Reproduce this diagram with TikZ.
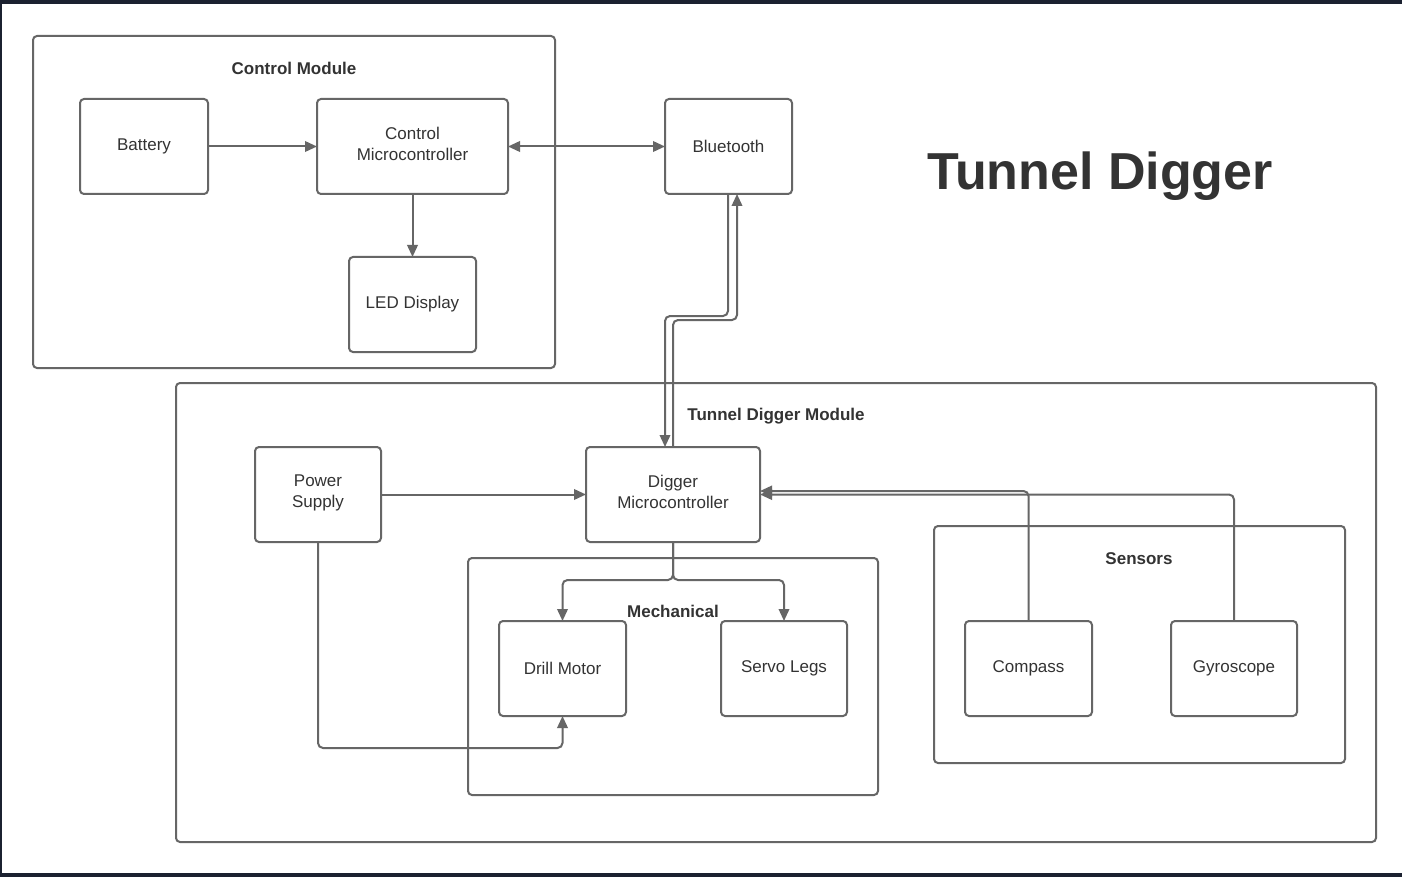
\documentclass[tikz,border=0pt]{standalone}
\usepackage{fontspec}
\setmainfont{Liberation Sans}
\usetikzlibrary{arrows.meta}
\definecolor{ln}{HTML}{666666}
\definecolor{tx}{HTML}{333333}
\definecolor{frame}{HTML}{1B2130}
\tikzset{
  box/.style={draw=ln, line width=2pt, rounded corners=4pt, fill=white, outer sep=0pt,
    text=tx, align=center, font=\fontsize{17}{21}\selectfont, inner sep=0pt},
  twoline/.style={text depth=6pt},
  grp/.style={draw=ln, line width=2pt, rounded corners=4pt, outer sep=0pt, inner sep=0pt},
  glabel/.style={text=tx, font=\fontsize{17}{20}\selectfont\bfseries, inner sep=0pt},
  conn/.style={draw=ln, line width=2pt, rounded corners=5pt, -{Triangle[length=12pt,width=10.5pt]}},
  conn2/.style={draw=ln, line width=2pt, {Triangle[length=12pt,width=10.5pt]}-{Triangle[length=12pt,width=10.5pt]}},
}
\begin{document}
\begin{tikzpicture}[x=1pt,y=-1pt]
\useasboundingbox (0,0) rectangle (1402,877);
\fill[frame] (0,0) rectangle (1402,877);
\fill[white] (2,4) rectangle (1403,873);

% containers
\node[grp, minimum width=522, minimum height=332] (ctrlmod) at (294,202) {};
\node[grp, minimum width=1200, minimum height=459] (tdm) at (776,612.5) {};
\node[grp, minimum width=410, minimum height=237] (mech) at (673,676.5) {};
\node[grp, minimum width=411, minimum height=237] (sens) at (1139.5,644.5) {};

\node[glabel] (ctrllbl) at (294,68) {Control Module};
\node[glabel] (tdmlbl) at (776,416) {Tunnel Digger Module};
\node[glabel] (mechlbl) at (673,611) {Mechanical};
\node[glabel] (senslbl) at (1139,559) {Sensors};
\node[text=tx, font=\fontsize{52}{60}\selectfont\bfseries, inner sep=0pt] (title) at (1100,176) {Tunnel Digger};

% blocks
\node[box, minimum width=128, minimum height=95] (bat) at (144,146.5) {Battery};
\node[box, twoline, minimum width=191, minimum height=95] (cmc) at (412.5,146.5) {Control\\Microcontroller};
\node[box, minimum width=127, minimum height=95] (led) at (412.5,304.5) {LED Display};
\node[box, minimum width=127, minimum height=95] (bt) at (728.5,146.5) {Bluetooth};
\node[box, twoline, minimum width=126, minimum height=95] (ps) at (318,494.5) {Power\\Supply};
\node[box, twoline, minimum width=174, minimum height=95] (dmc) at (673,494.5) {Digger\\Microcontroller};
\node[box, minimum width=127, minimum height=95] (drill) at (562.5,668.5) {Drill Motor};
\node[box, minimum width=126, minimum height=95] (servo) at (784,668.5) {Servo Legs};
\node[box, minimum width=127, minimum height=95] (comp) at (1028.5,668.5) {Compass};
\node[box, minimum width=126, minimum height=95] (gyro) at (1234,668.5) {Gyroscope};

% connectors
\draw[conn] (bat.east) -- (cmc.west);
\draw[conn2] (cmc.east) -- (bt.west);
\draw[conn] (cmc.south) -- (led.north);
\draw[conn] ([xshift=-0.5pt]bt.south) -- (728,316) -- (665,316) -- (665,0 |- dmc.north);
\draw[conn] (673,0 |- dmc.north) -- (673,320) -- (737,320) -- (737,0 |- bt.south);
\draw[conn] (ps.east) -- (dmc.west);
\draw[conn] (dmc.south) -- (673,580) -| (drill.north);
\draw[conn] (dmc.south) -- (673,580) -| (servo.north);
\draw[conn] (ps.south) -- (318,748) -| (drill.south);
\draw[conn] (comp.north) |- ([yshift=3.5pt]dmc.east);
\draw[conn] (gyro.north) |- (dmc.east);
\end{tikzpicture}
\end{document}
